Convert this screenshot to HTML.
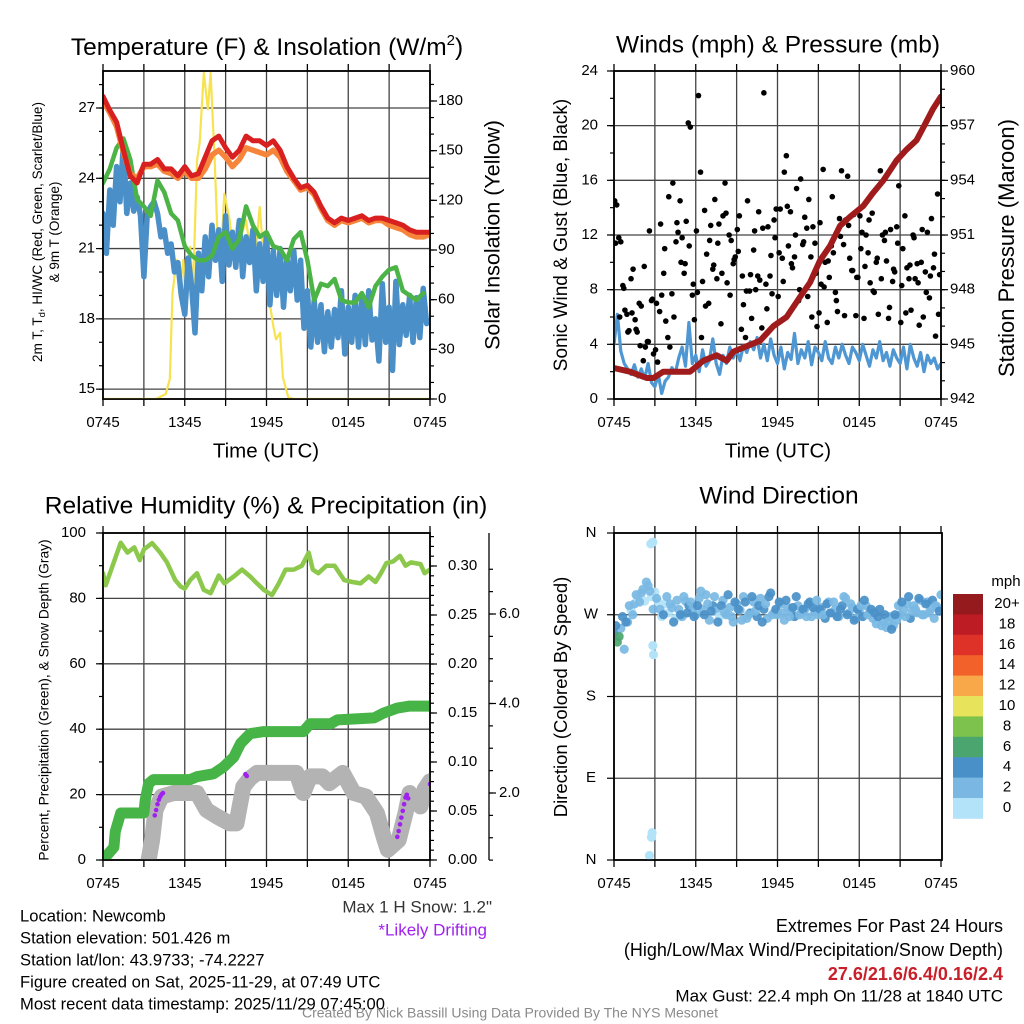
<!DOCTYPE html>
<html><head><meta charset="utf-8"><style>
html,body{margin:0;padding:0;background:#fff;}
svg{display:block;font-family:"Liberation Sans",Arial,sans-serif;}
</style></head><body>
<svg id="fig" width="1024" height="1024" viewBox="0 0 1024 1024" xmlns="http://www.w3.org/2000/svg">
<defs>
<clipPath id="c1"><rect x="103" y="71" width="327" height="328"/></clipPath>
<clipPath id="c2"><rect x="614" y="71" width="327" height="328"/></clipPath>
<clipPath id="c3"><rect x="103" y="533" width="327" height="327"/></clipPath>
<clipPath id="c4"><rect x="614" y="533" width="328" height="327"/></clipPath>
</defs>
<text x="267" y="55" font-size="24.5" text-anchor="middle">Temperature (F) &amp; Insolation (W/m<tspan dy="-10" font-size="15">2</tspan><tspan dy="10">)</tspan></text>
<text x="778" y="46" font-size="24.5" text-anchor="middle" dominant-baseline="middle">Winds (mph) &amp; Pressure (mb)</text>
<text x="266" y="507" font-size="24.5" text-anchor="middle" dominant-baseline="middle">Relative Humidity (%) &amp; Precipitation (in)</text>
<text x="779" y="497" font-size="24.5" text-anchor="middle" dominant-baseline="middle">Wind Direction</text>

<text x="266" y="452" font-size="20.5" text-anchor="middle" dominant-baseline="middle">Time (UTC)</text>
<text x="778" y="452" font-size="20.5" text-anchor="middle" dominant-baseline="middle">Time (UTC)</text>

<g transform="translate(38,232) rotate(-90)" font-size="13.5" text-anchor="middle">
<text x="0" y="4">2m T, T<tspan font-size="9.5" dy="3">d</tspan><tspan dy="-3">, HI/WC (Red, Green, Scarlet/Blue)</tspan></text>
<text x="0" y="21">&amp; 9m T (Orange)</text>
</g>
<text transform="translate(494,235) rotate(-90)" font-size="21.5" text-anchor="middle" dominant-baseline="middle">Solar Insolation (Yellow)</text>
<text transform="translate(562,235) rotate(-90)" font-size="19" text-anchor="middle" dominant-baseline="middle">Sonic Wind &amp; Gust (Blue, Black)</text>
<text transform="translate(1008,248) rotate(-90)" font-size="22" text-anchor="middle" dominant-baseline="middle">Station Pressure (Maroon)</text>
<text transform="translate(45,700) rotate(-90)" font-size="13.8" text-anchor="middle" dominant-baseline="middle">Percent, Precipitation (Green), &amp; Snow Depth (Gray)</text>
<text transform="translate(562,697) rotate(-90)" font-size="18.5" text-anchor="middle" dominant-baseline="middle">Direction (Colored By Speed)</text>

<text x="492" y="908" font-size="17" fill="#333" text-anchor="end" dominant-baseline="middle">Max 1 H Snow: 1.2"</text>
<text x="487" y="931" font-size="17" fill="#a020f0" text-anchor="end" dominant-baseline="middle">*Likely Drifting</text>

<g font-size="16.6" dominant-baseline="middle">
<text x="20" y="917">Location: Newcomb</text>
<text x="20" y="939">Station elevation: 501.426 m</text>
<text x="20" y="961">Station lat/lon: 43.9733; -74.2227</text>
<text x="20" y="983">Figure created on Sat, 2025-11-29, at 07:49 UTC</text>
<text x="20" y="1005">Most recent data timestamp: 2025/11/29 07:45:00</text>
</g>
<g font-size="18" text-anchor="end" dominant-baseline="middle">
<text x="1003" y="927">Extremes For Past 24 Hours</text>
<text x="1003" y="951">(High/Low/Max Wind/Precipitation/Snow Depth)</text>
<text x="1003" y="975" fill="#c8202a" font-weight="bold">27.6/21.6/6.4/0.16/2.4</text>
<text x="1003" y="997" font-size="17">Max Gust: 22.4 mph On 11/28 at 1840 UTC</text>
</g>
<text x="510" y="1014" font-size="14" fill="#8a8a8a" text-anchor="middle" dominant-baseline="middle">Created By Nick Bassill Using Data Provided By The NYS Mesonet</text>
<g id="layer"></g>
</svg>
<script>
// ---------- DATA ----------
const xTickLabels = ["0745","1345","1945","0145","0745"];
const redTemp = [27.5,26.9,26.4,25.2,24.1,23.8,24.6,24.6,24.8,24.4,24.4,24.1,24.5,24.1,24.2,24.9,25.6,25.8,25.3,24.9,25.2,25.8,25.6,25.6,25.4,25.6,25.2,24.5,24.0,23.6,23.7,23.4,22.8,22.3,22.1,22.3,22.2,22.3,22.4,22.2,22.3,22.3,22.2,22.1,22.0,21.8,21.7,21.7,21.7];
const orangeTemp = [27.3,26.8,26.2,25.1,24.2,24.0,24.5,24.5,24.6,24.3,24.2,24.0,24.3,24.0,24.0,24.4,25.0,25.2,24.9,24.5,24.8,25.3,25.2,25.1,25.0,25.2,24.9,24.3,23.9,23.5,23.6,23.3,22.7,22.2,22.0,22.2,22.1,22.2,22.3,22.1,22.2,22.2,22.0,21.9,21.8,21.6,21.5,21.5,21.6];
const greenHI = [23.8,24.4,25.3,25.7,24.8,23.1,22.8,22.4,23.9,23.4,22.5,22.2,21.1,20.7,20.5,20.5,20.7,21.5,21.7,21.0,21.4,22.8,22.0,21.5,21.7,21.1,21.0,20.5,21.4,21.7,20.5,18.8,19.5,19.4,19.7,18.8,18.7,18.7,19.1,18.5,19.4,19.8,20.1,20.2,19.2,19.0,18.8,19.1,19.1];
const blueTemp = [22.5,20.8,23.5,22.0, 24.5,23.0,25.5,22.5, 23.8,22.6,23.2,22.4, 19.8,22.5,22.8,23.0, 22.5,21.5,21.8,20.8, 21.2,20.0,20.4,19.0, 18.2,20.6,19.4,17.4, 20.8,19.2,21.5,19.8, 22.0,20.5,21.8,19.6, 22.4,20.3,21.7,20.2, 22.2,19.8,21.5,20.4, 21.8,19.2,21.2,19.6, 21.6,18.6,20.9,19.0, 21.0,18.5,20.6,19.2, 20.9,18.8,20.5,17.6, 19.2,16.8,18.8,17.0, 18.6,16.6,18.3,16.8, 18.4,17.2,19.2,16.5, 18.5,17.0,19.0,16.8, 18.8,16.9,19.2,17.1, 18.0,16.2,19.5,17.0, 18.5,15.8,19.6,16.9, 18.6,17.3,19.0,17.0, 18.9,17.2,19.3,17.8, 18.5];
const solarHours = [0,3.9,4.6,4.9,5.1,5.4,5.6,5.9,6.1,6.4,6.6,6.9,7.1,7.4,7.7,7.9,8.2,8.4,8.7,8.9,9.3,9.5,9.9,10.2,10.5,10.7,11.0,11.2,11.5,11.7,12.0,12.2,12.5,12.7,13.0,13.2,13.6,14.0,24];
const solarValues = [0,0,3,12,64,84,64,84,52,92,64,144,155,197,175,197,144,100,92,124,108,92,108,100,108,96,100,88,116,95,100,60,44,36,40,13,1,0,0];
const sonicWind = [4.0,6.2,3.5,2.6, 2.2,1.8,2.5,1.6, 2.2,1.5,2.6,1.2, 0.9,1.8,0.4,1.3, 1.6,2.3,1.9,3.0, 3.8,2.4,5.6,2.6, 3.2,2.0,3.6,2.4, 2.8,4.4,2.6,1.8, 3.2,2.6,3.8,3.0, 3.6,2.8,3.9,3.4, 4.2,3.6,4.5,3.0, 4.0,2.8,4.4,3.2, 2.6,3.8,2.2,3.4, 2.9,4.8,2.6,3.6, 3.0,4.2,2.5,3.8, 3.4,2.8,4.2,3.0, 2.6,3.8,3.0,4.0, 3.2,2.6,3.8,3.4, 2.8,4.0,3.2,2.4, 3.6,3.0,4.2,2.8, 3.4,2.4,3.6,3.0, 2.6,3.8,2.2,4.0, 3.0,2.4,3.4,2.0, 3.2,2.6,3.0,2.2, 2.6];
const gustValues = [14.5,14.2,11.8,11.5,8.3,6.5,6.2,5.0,8.8,9.5, 5.8,4.9,7.0,6.8,2.8,3.8,4.2,12.3,7.2,3.3, 3.6,2.7,6.4,7.6,9.2,5.7,4.5,3.8,7.7,6.0, 11.5,12.2,14.5,11.8,9.2,13.0,20.2,19.9,7.6,5.8, 12.3,22.2,16.6,8.6,13.8,10.6,7.0,12.7,9.5,14.6, 8.8,12.8,5.5,13.4,15.8,8.5,12.0,11.6,9.9,10.4, 12.4,13.4,5.1,6.9,4.5,14.5,7.9,5.9,10.9,8.0, 9.0,8.7,5.2,22.4,8.4,12.6,9.0,7.7,13.1,13.9, 7.5,13.9,10.3,16.6,17.8,11.2,13.7,9.6,10.4,15.4, 7.2,16.1,11.3,13.3,12.5,14.6,10.4,12.6,11.4,5.3, 6.3,8.4,16.8,10.0,5.6,8.9,11.2,10.7,7.8,6.4, 13.2,16.7,11.3,13.1,16.3,10.3,9.4,13.5,6.1,8.9, 13.4,12.2,5.9,12.0,10.7,8.5,13.6,7.8,10.0,6.2, 16.7,12.0,11.6,10.1,5.9,12.4,8.6,9.3,12.6,15.6, 5.6,11.0,13.4,9.6,8.8,6.5,12.0,8.8,9.9,5.4, 10.0,6.0,9.3,12.2,7.4,13.2,9.6,4.6,15.0,9.1];
// second batch of gust readings (offset times)
const gustValues2 = [11.4,6.0,8.1,4.9,6.3,5.1,3.9,9.7, 4.2,7.3,7.0,12.8,11.0,14.8,15.8,12.9, 10.0,9.9,11.2,8.4,7.8,4.5,6.8,11.6, 9.8,11.4,9.2,13.6,7.6,10.2,10.8,9.0, 7.9,9.1,12.3,13.7,12.5,6.6,10.5,11.8, 10.7,8.6,14.1,9.9,12.0,8.0,11.5,7.5, 6.0,9.2,12.9,8.2,10.1,14.8,7.2,11.9, 6.1,12.7,9.4,8.9,11.0,9.7,13.1,7.9, 10.3,8.8,12.2,6.7,9.5,11.4,8.3,6.3, 9.8,11.8,8.5,12.4,7.8,9.0,10.6,6.2];
const pressureHours = [0,1.17,2.4,2.89,3.62,4.6,5.58,6.56,7.54,8.27,8.76,9.74,10.72,11.7,12.67,13.65,14.39,15.12,15.85,16.59,17.32,18.3,19.0,19.77,20.75,21.48,22.2,22.7,23.4,24.0];
const pressureValues = [943.7,943.5,943.15,943.15,943.5,943.5,943.5,944.1,944.4,944.1,944.6,944.9,945.2,946.0,946.5,947.6,948.4,949.6,950.4,951.5,952.0,952.6,953.3,954.0,955.1,955.7,956.2,956.9,957.9,958.6];
const rhHours = [0,0.2,1.3,1.8,2.3,2.7,3.0,3.6,4.2,4.7,5.3,5.7,6.0,6.4,6.9,7.4,7.9,8.5,8.9,9.6,10.2,10.8,11.3,11.8,12.4,12.9,13.4,14.0,14.6,15.1,15.4,15.8,16.4,17.0,17.7,18.3,18.9,19.5,20.0,20.4,20.8,21.3,21.8,22.2,22.6,23.3,23.6,24.0];
const rhValues = [87.7,84,97,94,95.6,91.7,95,96.9,94,91,85.6,83.6,83,85.6,87.7,82.6,81.6,87,84.6,86.7,88.8,86.7,84.6,82.6,81,84.6,88.8,88.8,90,94,88.8,87.7,90,90,85.6,85,84.6,86.7,85,87.7,90.8,91.3,93,90,91,90.5,87.7,88.8];
const precipHours = [0,0.8,0.9,1.3,3.0,3.1,3.35,3.7,6.4,6.9,8.1,8.85,9.6,10.1,10.8,11.8,14.7,15.2,16.7,17.2,19.9,20.6,21.6,22.5,24.0];
const precipValues = [0,0.013,0.029,0.048,0.048,0.061,0.078,0.082,0.082,0.085,0.088,0.095,0.105,0.119,0.129,0.131,0.131,0.139,0.139,0.143,0.145,0.150,0.155,0.157,0.157];
const snowHours = [3.35,3.6,3.85,4.3,5.2,6.9,7.6,8.4,9.3,9.8,10.3,10.8,11.3,14.2,14.7,15.2,16.1,16.6,17.6,18.4,19.3,20.1,20.6,20.9,21.7,22.2,22.5,23.3,23.6,24.0];
const snowValues = [0.5,0.95,1.62,1.92,2.0,2.0,1.62,1.47,1.32,1.32,2.14,2.33,2.45,2.45,2.0,2.37,2.37,2.22,2.45,2.0,1.92,1.55,1.02,0.73,0.95,1.55,2.0,1.7,2.08,2.26];
const driftHours = [3.8,3.9,4.0,4.1,4.2,4.3,4.4,10.45,10.55,21.6,21.7,21.8,21.9,22.0,22.1,22.2,22.3,22.4,24.0];
const driftValues = [1.5,1.62,1.75,1.85,1.92,1.97,2.0,2.42,2.38,1.02,1.15,1.3,1.45,1.6,1.75,1.9,1.96,1.88,2.2];
const dirA = [250,240,255,232, 262,275,282,288, 294,285,302,290, 295,284,268,282, 272,278,266,276, 268,285,280,275, 270,288,276,292, 264,280,274,268, 286,270,278,262, 282,275,290,266, 272,284,268,288, 276,266,294,272, 270,282,264,278, 274,268,280,272, 276,282,268,274, 270,278,266,284, 272,276,268,280, 288,272,278,266, 274,268,280,272, 266,260,276,262, 256,268,258,264, 270,276,282,266, 280,272,286,270, 284,276,266,278, 292];
const dirB = [258,246,268,262, 280,270,292,284, 298,306,296,276, 288,276,270,290, 282,262,286,270, 290,272,284,268, 280,296,270,282, 274,290,262,280, 272,292,268,284, 276,264,284,270, 290,274,280,262, 282,290,270,276, 284,272,286,268, 278,290,270,276, 268,284,278,286, 276,270,282,272, 284,268,276,290, 270,282,264,276, 280,286,270,276, 272,268,258,270, 262,254,270,280, 284,268,290,274, 276,288,270,282, 272,286,280,274];
const speedB = [5,7,4,5, 3,3,3,3, 3,3,3,3, 3,3,5,3, 3,5,3,5, 3,5,3,5, 5,3,5,3, 5,3,5,5, 3,5,3,5, 5,3,5,3, 5,3,5,5, 3,5,3,5, 5,3,5,3, 5,5,3,5, 3,5,5,3, 5,3,5,5, 3,5,5,3, 5,3,5,5, 3,5,3,5, 5,5,3,5, 3,5,5,3, 5,3,5,3, 3,5,3,5, 3,5,3,5];
const outlierHours = [2.6,2.75,2.8,2.7,2.85,2.85,2.9];
const outlierDirs = [5,25,30,348,350,236,226];
const outlierSpeeds = [1,1,1,1,1,1,1];
const cbLabels = ["20+","18","16","14","12","10","8","6","4","2","0"];
const cbColors = ["#951a1d","#bd1c25","#de3128","#f26129","#f8a848","#e7e35a","#7cc24d","#4aa66e","#4a90c8","#7ab8e3","#b3e3f8"];

// ---------- HELPERS ----------
const NS = "http://www.w3.org/2000/svg";
const layer = document.getElementById("layer");
function mk(tag, attrs, parent){ const e=document.createElementNS(NS,tag); for(const k in attrs) e.setAttribute(k,attrs[k]); (parent||layer).appendChild(e); return e; }
function grp(clip){ return mk("g", clip?{"clip-path":"url(#"+clip+")"}:{}); }
const xA = h => 103 + h*13.625;
const xB = h => 614 + h*13.625;
function polyline(xs, ys, color, w, parent){ let d=""; for(let i=0;i<xs.length;i++){ d+=(i?"L":"M")+xs[i].toFixed(1)+","+ys[i].toFixed(1);} return mk("path",{d:d,fill:"none",stroke:color,"stroke-width":w,"stroke-linejoin":"round","stroke-linecap":"round"},parent); }
function txt(x,y,s,size,anchor,parent,fill){ const t=mk("text",{x:x,y:y,"font-size":size,"text-anchor":anchor,"dominant-baseline":"middle",fill:fill||"#000"},parent); t.textContent=s; return t; }

function frame(x0,y0,x1,y1,xf,name){
  const g=grp();
  
  
  for(let h=3;h<24;h+=3){ mk("line",{x1:xf(h),x2:xf(h),y1:y0,y2:y1,stroke:"#444","stroke-width":1.3},g); }
  for(let h=0;h<=24;h+=3){ mk("line",{x1:xf(h),x2:xf(h),y1:y0-7,y2:y0,stroke:"#000","stroke-width":1.3},g); mk("line",{x1:xf(h),x2:xf(h),y1:y1,y2:y1+7,stroke:"#000","stroke-width":1.3},g);}
  mk("rect",{x:x0,y:y0,width:x1-x0,height:y1-y0,fill:"none",stroke:"#000","stroke-width":1.6},g);
  const lg=grp();
  
  
  xTickLabels.forEach((s,i)=>txt(xf(i*6), y1+24, s, 15, "middle", lg));
  return g;
}
function hline(g,x0,x1,y){ mk("line",{x1:x0,x2:x1,y1:y,y2:y,stroke:"#444","stroke-width":1.3},g); }
function ticksY(x,dir,vals,yf,len,g){ vals.forEach(v=>mk("line",{x1:x,x2:x+dir*len,y1:yf(v),y2:yf(v),stroke:"#000","stroke-width":1.2},g)); }
function range(a,b,s){ const r=[]; for(let v=a; v<=b+1e-9; v+=s) r.push(+v.toFixed(4)); return r; }

// ---------- PANEL 1 ----------
const yT = v => 108 + (27-v)*23.43;
const yS = w => 399 - w*298/180;
const g1 = frame(103,71,430,399,xA,"temp-panel");
range(15,27,3).forEach(v=>hline(g1,103,430,yT(v)));
const ax1 = grp();


ticksY(103,-1,range(15,27,3),yT,7,ax1); ticksY(103,-1,range(15,28,1),yT,4,ax1);
range(15,27,3).forEach(v=>txt(95,yT(v),String(v),15,"end",ax1));
const ax1r = grp();


ticksY(430,1,range(0,180,30),yS,7,ax1r); ticksY(430,1,range(0,190,10),yS,4,ax1r);
range(0,180,30).forEach(v=>txt(438,yS(v),String(v),15,"start",ax1r));
const p1 = grp("c1");


const half = redTemp.map((_,i)=>i*0.5);
const qtr = blueTemp.map((_,i)=>i*0.25);
let e;
e = polyline(solarHours.map(xA), solarValues.map(yS), "#f7e250", 2.2, p1);


e = polyline(qtr.slice(0,96).map(xA), blueTemp.slice(0,96).map(yT), "#4a8fc7", 5.5, p1);


e = polyline(half.slice(0,48).map(xA), greenHI.slice(0,48).map(yT), "#4cb446", 4.5, p1);


e = polyline(half.map(xA), orangeTemp.map(yT), "#f6843a", 5.5, p1);


e = polyline(half.map(xA), redTemp.map(yT), "#d7201f", 5, p1);


mk("rect",{x:103,y:71,width:327,height:328,fill:"none",stroke:"#000","stroke-width":1.6});

// ---------- PANEL 2 ----------
const yW = m => 399 - m*13.667;
const yP = p => 399 - (p-942)*18.22;
const g2 = frame(614,71,941,399,xB,"wind-panel");
range(4,20,4).forEach(v=>hline(g2,614,941,yW(v)));
const ax2 = grp();


ticksY(614,-1,range(0,24,4),yW,7,ax2); ticksY(614,-1,range(0,24,2),yW,4,ax2);
range(0,24,4).forEach(v=>txt(598,yW(v),String(v),15,"end",ax2));
const ax2r = grp();


ticksY(941,1,range(942,960,3),yP,7,ax2r); ticksY(941,1,range(942,960,1),yP,4,ax2r);
range(942,960,3).forEach(v=>txt(950,yP(v),String(v),15,"start",ax2r));
const p2 = grp("c2");


e = polyline(sonicWind.map((_,i)=>xB(i*0.25)), sonicWind.map(yW), "#4f97d3", 3.2, p2);


const gustG = mk("g",{},p2);


gustValues.forEach((v,i)=>{
  const c = mk("circle",{cx:xB(i*0.15+0.05),cy:yW(v),r:2.8,fill:"#000"},gustG);
  
  
});
gustValues2.forEach((v,i)=>{
  const c = mk("circle",{cx:xB(i*0.3+0.12),cy:yW(v),r:2.8,fill:"#000"},gustG);
  
  
});
e = polyline(pressureHours.map(xB), pressureValues.map(yP), "#a01c1c", 6, p2);


mk("rect",{x:614,y:71,width:327,height:328,fill:"none",stroke:"#000","stroke-width":1.6});

// ---------- PANEL 3 ----------
const yRH = r => 860 - r*3.27;
const yPr = p => 860 - p*980;
const ySn = s => 882.5 - s*44.75;
const g3 = frame(103,533,430,860,xA,"rh-panel");
range(20,80,20).forEach(v=>hline(g3,103,430,yRH(v)));
const ax3 = grp();


ticksY(103,-1,range(0,100,20),yRH,7,ax3); ticksY(103,-1,range(0,100,10),yRH,4,ax3);
range(0,100,20).forEach(v=>txt(86,yRH(v),String(v),15,"end",ax3));
const ax3r = grp();


ticksY(430,1,range(0,0.30,0.05),yPr,7,ax3r); ticksY(430,1,range(0,0.33,0.01),yPr,4,ax3r);
range(0,0.30,0.05).forEach(v=>txt(448,yPr(v),v.toFixed(2),15,"start",ax3r));
const ax3s = grp();


mk("line",{x1:489,x2:489,y1:533,y2:860,stroke:"#000","stroke-width":1.3},ax3s);
ticksY(489,1,[2,4,6],ySn,7,ax3s); ticksY(489,1,range(0.5,7,0.5),ySn,4,ax3s);
[2,4,6].forEach(v=>txt(499,ySn(v),v.toFixed(1),15,"start",ax3s));
const p3 = grp("c3");


e = polyline(snowHours.map(xA), snowValues.map(ySn), "#b3b3b3", 16, p3);


e = polyline(precipHours.map(xA), precipValues.map(yPr), "#46b446", 11, p3);


e = polyline(rhHours.map(xA), rhValues.map(yRH), "#8cc84b", 4.5, p3);


const driftG = mk("g",{},p3);


driftHours.forEach((h,i)=>{
  const c = mk("circle",{cx:xA(h),cy:ySn(driftValues[i]),r:2.3,fill:"#a020f0"},driftG);
  
  
});
mk("rect",{x:103,y:533,width:327,height:327,fill:"none",stroke:"#000","stroke-width":1.6});

// ---------- PANEL 4 ----------
const yD = d => 860 - d*327/360;
const g4 = frame(614,533,942,860,xB,"direction-panel");
[90,180,270].forEach(v=>hline(g4,614,942,yD(v)));
const ax4 = grp();


ticksY(614,-1,[0,90,180,270,360],yD,7,ax4);
["N","E","S","W","N"].forEach((s,i)=>txt(591,yD(i*90),s,15,"middle",ax4));
function spdColor(s){ const i=Math.min(10,Math.max(0,Math.floor(s/2))); return cbColors[10-i]; }
const p4 = grp("c4");


dirA.forEach((d,i)=>{
  const c = mk("circle",{cx:xB(i*0.25),cy:yD(d),r:4.6,fill:spdColor(sonicWind[i]),"fill-opacity":0.92},p4);
  
  
});
dirB.forEach((d,i)=>{
  const c = mk("circle",{cx:xB(i*0.25+0.125),cy:yD(d),r:4.6,fill:spdColor(speedB[i]),"fill-opacity":0.92},p4);
  
  
});
outlierHours.forEach((h,i)=>{
  const c = mk("circle",{cx:xB(h),cy:yD(outlierDirs[i]),r:4.6,fill:spdColor(outlierSpeeds[i])},p4);
  
  
});
mk("rect",{x:614,y:533,width:328,height:327,fill:"none",stroke:"#000","stroke-width":1.6});

const cb = grp();


txt(1006,582,"mph",15,"middle",cb);
cbColors.forEach((c,i)=>{
  const r = mk("rect",{x:953,y:594+i*20.4,width:30,height:20.8,fill:c},cb);
  
  
  txt(1007,604+i*20.4,cbLabels[i],15,"middle",cb);
});
</script>
</body></html>
